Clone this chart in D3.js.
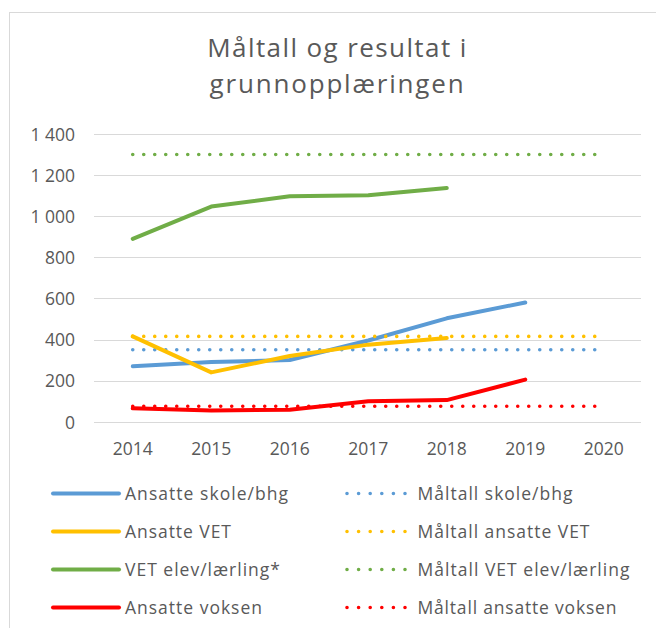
<!DOCTYPE html>
<html>
<head>
<meta charset="utf-8">
<script src="https://cdn.jsdelivr.net/npm/d3@7"></script>
<style>
  html, body { margin: 0; padding: 0; background: #fff; }
  svg { display: block; }
  text { font-family: "Open Sans", sans-serif; fill: #595959; }
</style>
</head>
<body>
<svg id="chart" width="656" height="628"></svg>
<script>
// ---------- data ----------
const years = ["2014", "2015", "2016", "2017", "2018", "2019", "2020"];
const yTicks = [0, 200, 400, 600, 800, 1000, 1200, 1400];
const titleLines = ["Måltall og resultat i", "grunnopplæringen"];

const ansatteSkole   = [270, 290, 300, 395, 503, 580, null];
const maltallSkole   = [350, 350, 350, 350, 350, 350, 350];
const ansatteVET     = [415, 240, 320, 375, 407, null, null];
const maltallVET     = [415, 415, 415, 415, 415, 415, 415];
const vetElev        = [890, 1047, 1097, 1102, 1137, null, null];
const maltallElev    = [1300, 1300, 1300, 1300, 1300, 1300, 1300];
const ansatteVoksen  = [65, 55, 58, 100, 105, 205, null];
const maltallVoksen  = [75, 75, 75, 75, 75, 75, 75];

const seriesNames = [
  "Ansatte skole/bhg", "Måltall skole/bhg",
  "Ansatte VET", "Måltall ansatte VET",
  "VET elev/lærling*", "Måltall VET elev/lærling",
  "Ansatte voksen", "Måltall ansatte voksen"
];
const seriesValues = [
  ansatteSkole, maltallSkole,
  ansatteVET, maltallVET,
  vetElev, maltallElev,
  ansatteVoksen, maltallVoksen
];
const seriesColors = ["#5B9BD5", "#5B9BD5", "#FFC000", "#FFC000", "#70AD47", "#70AD47", "#FF0000", "#FF0000"];
const seriesDotted = [false, true, false, true, false, true, false, true];

// ---------- layout ----------
const svg = d3.select("#chart");
const plot = { left: 94, right: 641, top: 134, bottom: 421.7 };

// chart area border
svg.append("rect")
  .attr("x", 9.5).attr("y", 12.5)
  .attr("width", 700).attr("height", 700)
  .attr("fill", "#fff").attr("stroke", "#D9D9D9").attr("stroke-width", 1);

// helper: fit text width via letter-spacing
function fit(sel, target) {
  sel.each(function () {
    const n = this.textContent.length;
    const w = this.getComputedTextLength();
    if (n > 1) d3.select(this).style("letter-spacing", ((target - w) / (n - 1)) + "px");
  });
}

// title
const titleBase = [57, 93];
const titleW = [259, 254];
titleLines.forEach((t, i) => {
  svg.append("text")
    .attr("x", 337.5).attr("y", titleBase[i])
    .attr("text-anchor", "middle")
    .style("font-size", "26px")
    .text(t)
    .call(fit, titleW[i]);
});

const x = d3.scaleBand().domain(years).range([plot.left - 0.5, plot.right + 2]);
const cx = d => x(d) + x.bandwidth() / 2;
const y = d3.scaleLinear().domain([0, 1400]).range([plot.bottom, plot.top]);

// gridlines
svg.append("g")
  .selectAll("line").data(yTicks).join("line")
  .attr("x1", plot.left).attr("x2", plot.right)
  .attr("y1", d => Math.round(y(d)) + 0.5).attr("y2", d => Math.round(y(d)) + 0.5)
  .attr("stroke", "#D9D9D9").attr("stroke-width", 1);

// y axis labels
const fmt = d => d3.format(",")(d).replace(/,/g, " ");
const yAxis = d3.axisLeft(y).tickValues(yTicks).tickFormat(fmt).tickSize(0).tickPadding(0);
const gy = svg.append("g").attr("transform", "translate(75,0)").call(yAxis);
gy.select(".domain").remove();
gy.selectAll("text")
  .attr("x", 0).attr("dy", "0.36em")
  .style("font-family", "'Open Sans', sans-serif")
  .style("font-size", "17.5px").style("fill", "#595959");

// x axis labels
const xAxis = d3.axisBottom(x).tickSize(0).tickPadding(0);
const gx = svg.append("g").attr("transform", "translate(0,442)").call(xAxis);
gx.select(".domain").remove();
gx.selectAll("text")
  .attr("y", 0).attr("dy", "0.72em")
  .style("font-family", "'Open Sans', sans-serif")
  .style("font-size", "17.5px").style("fill", "#595959");

// lines
const line = d3.line()
  .defined(d => d[1] != null)
  .x(d => cx(d[0]))
  .y(d => y(d[1]));

seriesValues.forEach((vals, i) => {
  const pts = years.map((yr, j) => [yr, vals[j]]);
  const p = svg.append("path")
    .datum(pts)
    .attr("d", line)
    .attr("fill", "none")
    .attr("stroke", seriesColors[i])
    .attr("stroke-linejoin", "round")
    .attr("stroke-linecap", "round");
  if (seriesDotted[i]) {
    p.attr("stroke-width", 3.6).attr("stroke-dasharray", "0 11");
  } else {
    p.attr("stroke-width", 4);
  }
});

// legend
const rowY = [493.5, 531.5, 569.5, 607.5];
const legendTextW = [163, 155, 106, 172, 155, 212, 137, 199];
seriesNames.forEach((name, i) => {
  const col = i % 2, row = Math.floor(i / 2);
  const yy = rowY[row];
  const g = svg.append("g");
  if (seriesDotted[i]) {
    g.append("line")
      .attr("x1", 347).attr("x2", 406).attr("y1", yy).attr("y2", yy)
      .attr("stroke", seriesColors[i]).attr("stroke-width", 3.6)
      .attr("stroke-linecap", "round").attr("stroke-dasharray", "0 11.6");
  } else {
    g.append("line")
      .attr("x1", 53).attr("x2", 119).attr("y1", yy).attr("y2", yy)
      .attr("stroke", seriesColors[i]).attr("stroke-width", 4)
      .attr("stroke-linecap", "round");
  }
  g.append("text")
    .attr("x", col === 0 ? 125 : 417.5)
    .attr("y", yy + 6.5)
    .style("font-size", "17.5px")
    .text(name)
    .call(fit, legendTextW[i]);
});
</script>
</body>
</html>
